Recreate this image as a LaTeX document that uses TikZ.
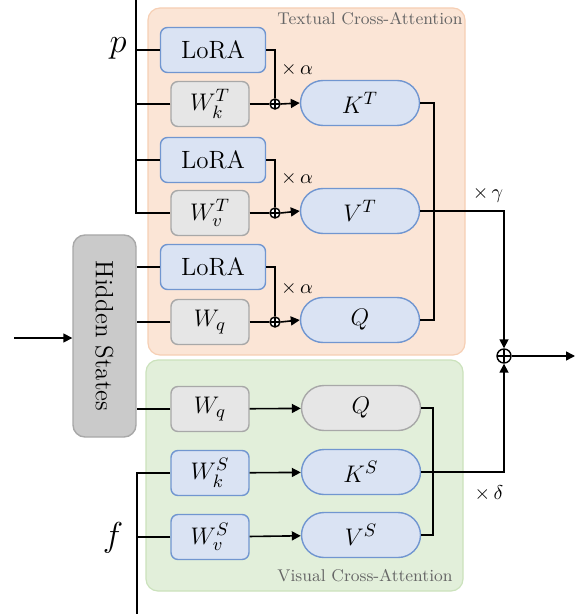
\documentclass[tikz,border=0pt]{standalone}
\usepackage{amsmath}
\usepackage{tikz}
\usetikzlibrary{arrows.meta,positioning}

\definecolor{peach}{HTML}{FBE5D6}
\definecolor{peachline}{HTML}{F6CFB4}
\definecolor{mint}{HTML}{E2EFDA}
\definecolor{mintline}{HTML}{CBE2BC}
\definecolor{bluefill}{HTML}{DAE3F3}
\definecolor{blueline}{HTML}{7196D0}
\definecolor{grayfill}{HTML}{E6E6E6}
\definecolor{grayline}{HTML}{A8A8A8}
\definecolor{hsfill}{HTML}{CACACA}

\begin{document}
\begin{tikzpicture}[x=0.5pt,y=-0.5pt,>={Triangle[length=4.5pt,width=4.5pt]},thick,
		font=\fontsize{12.5}{15}\selectfont,
		box/.style={rounded corners=3.5pt,minimum height=22.5pt,inner sep=0pt,line width=0.7pt},
		lora/.style={box,draw=blueline,fill=bluefill,minimum width=52.5pt},
		wgray/.style={box,draw=grayline,fill=grayfill,minimum width=39pt},
		wblue/.style={box,draw=blueline,fill=bluefill,minimum width=39pt},
		pill/.style={box,rounded corners=11.25pt,draw=blueline,fill=bluefill,minimum width=59.5pt},
		pillgray/.style={pill,draw=grayline,fill=grayfill},
		addsmall/.style={circle,draw,fill=white,inner sep=0pt,minimum size=5pt,line width=0.7pt,
			path picture={\draw[line width=0.7pt] (path picture bounding box.north) -- (path picture bounding box.south)
				(path picture bounding box.west) -- (path picture bounding box.east);}},
		addbig/.style={addsmall,minimum size=7pt},
		title/.style={text=black!60,font=\fontsize{8.5}{10}\selectfont},
		scale label/.style={font=\fontsize{10}{12}\selectfont}]
		
		\useasboundingbox (0,0) rectangle (582,614);
		
		% panels
		\draw[draw=peachline,fill=peach,rounded corners=6pt,line width=0.6pt] (148,8) rectangle (465,355);
		\draw[draw=mintline,fill=mint,rounded corners=6pt,line width=0.6pt] (146,360) rectangle (463,591);
		\node[title] (TT) at (370,19) {Textual Cross-Attention};
		\node[title] (VT) at (365,576) {Visual Cross-Attention};
		
		% hidden states
		\node[box,rounded corners=6pt,draw=grayline,fill=hsfill,minimum width=31.5pt,minimum height=101pt] (H) at (104.5,336)
			{\rotatebox{-90}{Hidden States}};
		\coordinate (in) at (14,338);
		\draw[->] (in) -- (in -| H.west);
		
		% textual branch
		\node[lora]  (L1) at (213,50)  {LoRA};
		\node[wgray] (Wk) at (210,104) {$W_k^T$};
		\node[lora]  (L2) at (213,160) {LoRA};
		\node[wgray] (Wv) at (210,213) {$W_v^T$};
		\node[lora]  (L3) at (213,267) {LoRA};
		\node[wgray] (Wq) at (210,322) {$W_q$};
		
		\node[pill] (KT) at (360,103) {$K^T$};
		\node[pill] (VTT) at (360,211) {$V^T$};
		\node[pill] (QT) at (360,320) {$Q$};
		
		\node[addsmall] (A1) at (275,104) {};
		\node[addsmall] (A2) at (275,213) {};
		\node[addsmall] (A3) at (275,322) {};
		
		% visual branch
		\node[wgray] (Wq2) at (210,409) {$W_q$};
		\node[wblue] (WkS) at (210,473) {$W_k^S$};
		\node[wblue] (WvS) at (210,537) {$W_v^S$};
		\node[pillgray] (QS) at (361,408) {$Q$};
		\node[pill] (KS) at (361,472) {$K^S$};
		\node[pill] (VS) at (361,535) {$V^S$};
		
		\node[addbig] (sum) at (504,356) {};
		\coordinate (out) at (575,356);
		
		% inputs p and f
		\coordinate (ptop) at (136,0);
		\coordinate (fbot) at (137,614);
		\node[font=\fontsize{18}{20}\selectfont] (p) at (118,48) {$p$};
		\node[font=\fontsize{18}{20}\selectfont] (f) at (113,538) {$f$};
		\draw (ptop) |- (Wv.west);
		\draw (L1.west) -- (L1.west -| ptop);
		\draw (Wk.west) -- (Wk.west -| ptop);
		\draw (L2.west) -- (L2.west -| ptop);
		\draw (fbot) |- (WkS.west);
		\draw (WvS.west) -- (WvS.west -| fbot);
		\draw (L3.west) -- (L3.west -| H.east);
		\draw (Wq.west) -- (Wq.west -| H.east);
		\draw (Wq2.west) -- (Wq2.west -| H.east);
		
		% LoRA merge
		\foreach \l/\w/\a/\o in {L1/Wk/A1/KT, L2/Wv/A2/VTT, L3/Wq/A3/QT} {
			\draw (\l.east) -| (\a.north);
			\draw (\w.east) -- (\a.west);
			\draw[->] (\a.east) -- (\o.west);
			\node[scale label] at ([xshift=11pt,yshift=17pt]\a) {$\times\,\alpha$};
		}
		
		\draw[->] (Wq2) -- (QS);
		\draw[->] (WkS) -- (KS);
		\draw[->] (WvS) -- (VS);
		
		% outputs
		\coordinate (jT) at (434,0);
		\coordinate (jV) at (433,0);
		\draw (KT.east) -| (jT |- QT.east) -- (QT.east);
		\draw (QS.east) -| (jV |- VS.east) -- (VS.east);
		\draw[->] (VTT.east) -| (sum.north);
		\draw[->] (KS.east) -| (sum.south);
		\draw[->] (sum.east) -- (out);
		\node[scale label] (g) at (488,195) {$\times\,\gamma$};
		\node[scale label] (d) at (489,493) {$\times\,\delta$};
	\end{tikzpicture}
\end{document}
